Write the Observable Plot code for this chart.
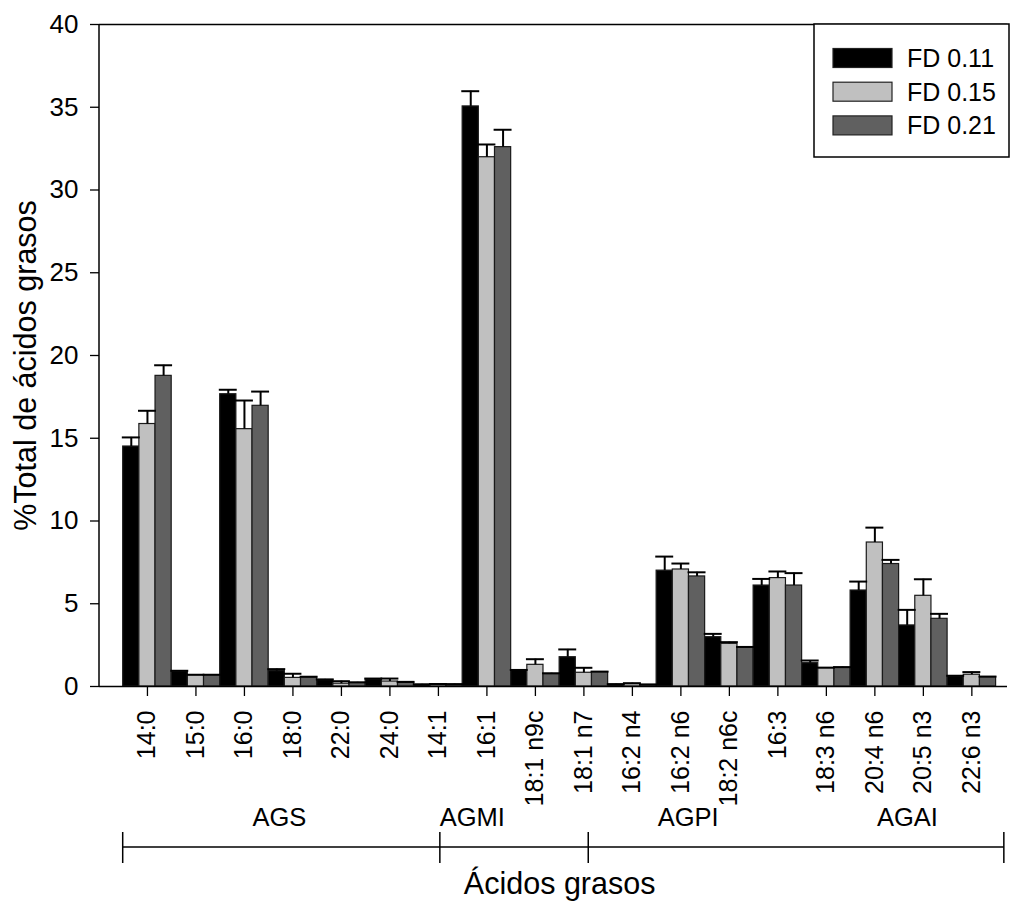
<!DOCTYPE html>
<html><head><meta charset="utf-8">
<script src="https://cdn.jsdelivr.net/npm/d3@7"></script>
<script src="https://cdn.jsdelivr.net/npm/@observablehq/plot@0.6"></script>
<style>body{margin:0;background:#fff}</style>
</head><body><div id="chart"></div>
<script>
const categories = ["14:0","15:0","16:0","18:0","22:0","24:0","14:1","16:1","18:1 n9c","18:1 n7","16:2 n4","16:2 n6","18:2 n6c","16:3","18:3 n6","20:4 n6","20:5 n3","22:6 n3"];
const seriesNames = ["FD 0.11","FD 0.15","FD 0.21"];
const seriesColors = ["#000000","#c0c0c0","#606060"];
const fd011 = [14.5, 0.9, 17.66, 0.93, 0.38, 0.42, 0.10, 35.05, 0.95, 1.77, 0.12, 7.0, 2.98, 6.1, 1.41, 5.8, 3.69, 0.60];
const fd015 = [15.86, 0.68, 15.55, 0.52, 0.17, 0.30, 0.12, 31.98, 1.31, 0.83, 0.15, 7.07, 2.58, 6.55, 1.11, 8.7, 5.48, 0.71];
const fd021 = [18.77, 0.68, 16.96, 0.55, 0.22, 0.22, 0.12, 32.59, 0.75, 0.87, 0.10, 6.65, 2.36, 6.1, 1.14, 7.4, 4.09, 0.56];
const err011 = [0.55, 0.05, 0.27, 0.12, 0.05, 0.06, 0.03, 0.92, 0.05, 0.47, 0.02, 0.85, 0.2, 0.4, 0.16, 0.54, 0.94, 0.05];
const err015 = [0.8, 0.03, 1.73, 0.25, 0.15, 0.18, 0.03, 0.77, 0.34, 0.3, 0.05, 0.36, 0.1, 0.4, 0.03, 0.9, 1.0, 0.16];
const err021 = [0.64, 0.03, 0.86, 0.04, 0.03, 0.06, 0.02, 1.05, 0.05, 0.03, 0.02, 0.25, 0.03, 0.75, 0.03, 0.25, 0.3, 0.04];
const yTicks = [0, 5, 10, 15, 20, 25, 30, 35, 40];
const groups = ["AGS", "AGMI", "AGPI", "AGAI"];
const groupCenters = [3.22, 7.2, 11.65, 16.17];
const groupBounds = [0, 6.54, 9.6, 18.17];
const xTitle = "Ácidos grasos";
const yTitle = "%Total de ácidos grasos";

const values = [fd011, fd015, fd021];
const errs = [err011, err015, err021];
const data = [];
categories.forEach((c, i) => seriesNames.forEach((s, j) => data.push({cat: c, i, j, series: s, value: values[j][i], err: errs[j][i]})));
const center = d => d.i + (d.j + 0.5) / 3;

const font = "'Liberation Sans', Arial, Helvetica, sans-serif";
const plot = Plot.plot({
  width: 1010, height: 905,
  marginTop: 24, marginBottom: 219, marginLeft: 99, marginRight: 3,
  style: {fontFamily: font, background: "white", color: "black", overflow: "visible"},
  x: {type: "linear", domain: [0, categories.length], range: [122.7, 995.6]},
  y: {domain: [0, 40]},
  color: {domain: seriesNames, range: seriesColors},
  marks: [
    Plot.ruleY([40], {stroke: "#000", strokeWidth: 1.3}),
    Plot.rectY(data, {x1: d => d.i + d.j / 3, x2: d => d.i + (d.j + 1) / 3, y1: 0, y2: "value", fill: "series", stroke: "#1a1a1a", strokeWidth: 1.2}),
    Plot.ruleX(data, {x: center, y1: "value", y2: d => d.value + d.err, stroke: "#000", strokeWidth: 2}),
    Plot.ruleY(data, {y: d => d.value + d.err, x1: d => center(d) - 0.185, x2: d => center(d) + 0.185, stroke: "#000", strokeWidth: 2}),
    Plot.ruleY([0], {stroke: "#000", strokeWidth: 1.5}),
    Plot.axisY({ticks: yTicks, tickSize: 9, tickPadding: 12, fontSize: 26, label: null, tickFormat: d => String(d), stroke: "#000", strokeWidth: 1.3}),
    Plot.axisX({ticks: categories.map((c, i) => i + 0.5), tickSize: 10, tickFormat: () => "", label: null, stroke: "#000", strokeWidth: 1.3}),
    Plot.text(categories, {x: (d, i) => i + 0.5, text: d => d, frameAnchor: "bottom", dy: 24, rotate: -90, textAnchor: "end", lineAnchor: "middle", fontSize: 25, fill: "#000"}),
    Plot.text(groups, {x: (d, i) => groupCenters[i], text: d => d, frameAnchor: "bottom", dy: 131, fontSize: 25.5, textAnchor: "middle", lineAnchor: "middle", fill: "#000"}),
    Plot.text([xTitle], {x: categories.length / 2, text: d => d, frameAnchor: "bottom", dy: 198, fontSize: 30.5, textAnchor: "middle", lineAnchor: "middle", fill: "#000"}),
    Plot.text([yTitle], {text: d => d, frameAnchor: "left", dx: -73, dy: 10, rotate: -90, fontSize: 30.5, textAnchor: "middle", lineAnchor: "middle", fill: "#000"})
  ]
});
document.getElementById("chart").append(plot);

const svg = d3.select(plot);
const xs = plot.scale("x");
svg.append("line").attr("x1", 99).attr("x2", 99).attr("y1", 24).attr("y2", 686).attr("stroke", "#000").attr("stroke-width", 1.5);
const br = svg.append("g").attr("stroke", "#000").attr("stroke-width", 1.5);
br.append("line").attr("x1", xs.apply(groupBounds[0])).attr("x2", xs.apply(groupBounds[groupBounds.length - 1])).attr("y1", 847).attr("y2", 847);
groupBounds.forEach(b => br.append("line").attr("x1", xs.apply(b)).attr("x2", xs.apply(b)).attr("y1", 832).attr("y2", 863));

const lg = svg.append("g").attr("text-anchor", "start");
lg.append("rect").attr("x", 814).attr("y", 24).attr("width", 195).attr("height", 133).attr("fill", "#fff").attr("stroke", "#000").attr("stroke-width", 1.5);
seriesNames.forEach((s, k) => {
  lg.append("rect").attr("x", 833).attr("y", 48.5 + k * 33.7).attr("width", 59).attr("height", 19).attr("fill", seriesColors[k]).attr("stroke", "#222").attr("stroke-width", 1.2);
  lg.append("text").attr("x", 907).attr("y", 67 + k * 33.7).attr("font-size", 25).attr("fill", "#000").attr("text-anchor", "start").text(s);
});
</script>
</body></html>
